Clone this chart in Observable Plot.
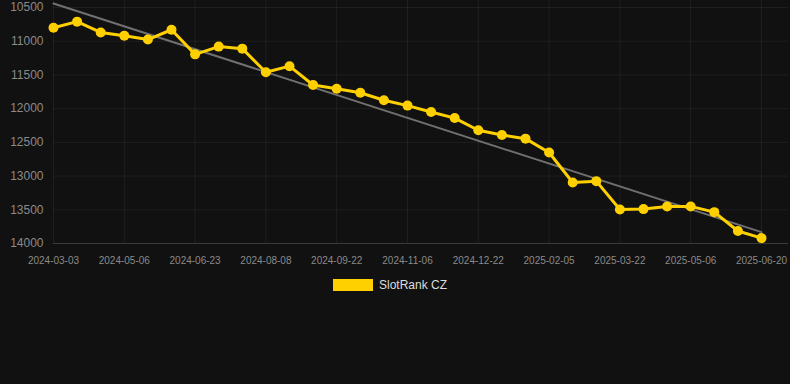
<!DOCTYPE html>
<html>
<head>
<meta charset="utf-8">
<script src="https://cdn.jsdelivr.net/npm/d3@7"></script>
<script src="https://cdn.jsdelivr.net/npm/@observablehq/plot@0.6"></script>
<style>
  html, body { margin: 0; padding: 0; background: #111111; }
  body { width: 790px; height: 384px; position: relative; overflow: hidden; font-family: "Liberation Sans", Arial, sans-serif; }
  #legend { position: absolute; left: 333px; top: 278px; display: flex; align-items: center; gap: 6px; color: #dddddd; font-size: 12px; }
  #legend .sw { width: 40px; height: 12px; background: #FFD000; }
</style>
</head>
<body>
<div id="chart"></div>
<div id="legend"><div class="sw"></div><span>SlotRank CZ</span></div>
<script>
const dates = [
  "2024-03-03","2024-03-24","2024-04-14","2024-05-06","2024-05-22","2024-06-07",
  "2024-06-23","2024-07-08","2024-07-23","2024-08-08","2024-08-23","2024-09-07",
  "2024-09-22","2024-10-07","2024-10-22","2024-11-06","2024-11-21","2024-12-06",
  "2024-12-22","2025-01-06","2025-01-21","2025-02-05","2025-02-20","2025-03-07",
  "2025-03-22","2025-04-06","2025-04-21","2025-05-06","2025-05-21","2025-06-05",
  "2025-06-20"
];
const ranks = [
  10800, 10710, 10870, 10920, 10975, 10830, 11195, 11080, 11110, 11460,
  11370, 11650, 11705, 11765, 11875, 11955, 12050, 12140, 12320, 12390,
  12445, 12650, 13095, 13075, 13495, 13490, 13450, 13450, 13535, 13815,
  13920
];
const trendIndex = [0, 30];
const trendValues = [10441, 13832];
const xTickIndex = [0, 3, 6, 9, 12, 15, 18, 21, 24, 27, 30];
const yTicks = [10500, 11000, 11500, 12000, 12500, 13000, 13500, 14000];
const seriesName = "SlotRank CZ";

const data = ranks.map((v, i) => ({i, date: dates[i], v}));
const trend = trendIndex.map((i, k) => ({i, v: trendValues[k]}));

const chart = Plot.plot({
  width: 790,
  height: 270,
  marginLeft: 53,
  marginRight: 2,
  insetRight: 27,
  marginTop: 0,
  insetTop: 7,
  marginBottom: 27,
  style: {background: "#111111", color: "#8a8a8a", fontFamily: "'Liberation Sans', Arial, sans-serif", fontSize: "11px"},
  x: {type: "linear", domain: [0, dates.length - 1]},
  y: {domain: [10500, 14000], reverse: true},
  marks: [
    Plot.gridX(xTickIndex, {stroke: "#ffffff", strokeOpacity: 0.06}),
    Plot.gridY(yTicks, {stroke: "#ffffff", strokeOpacity: 0.06}),
    Plot.ruleY([14000], {stroke: "#ffffff", strokeOpacity: 0.12}),
    Plot.axisX(xTickIndex, {tickSize: 0, tickPadding: 13, tickFormat: i => dates[i], label: null, fill: "#8a8a8a", fontSize: 10}),
    Plot.axisY(yTicks, {tickSize: 0, tickPadding: 10, tickFormat: d => String(d), label: null, fill: "#8a8a8a", fontSize: 12}),
    Plot.line(trend, {x: "i", y: "v", stroke: "#707070", strokeWidth: 2}),
    Plot.line(data, {x: "i", y: "v", stroke: "#FFD000", strokeWidth: 3}),
    Plot.dot(data, {x: "i", y: "v", fill: "#FFD000", r: 5, title: d => `${seriesName} ${d.date}: ${d.v}`})
  ]
});
document.getElementById("chart").appendChild(chart);
</script>
</body>
</html>
